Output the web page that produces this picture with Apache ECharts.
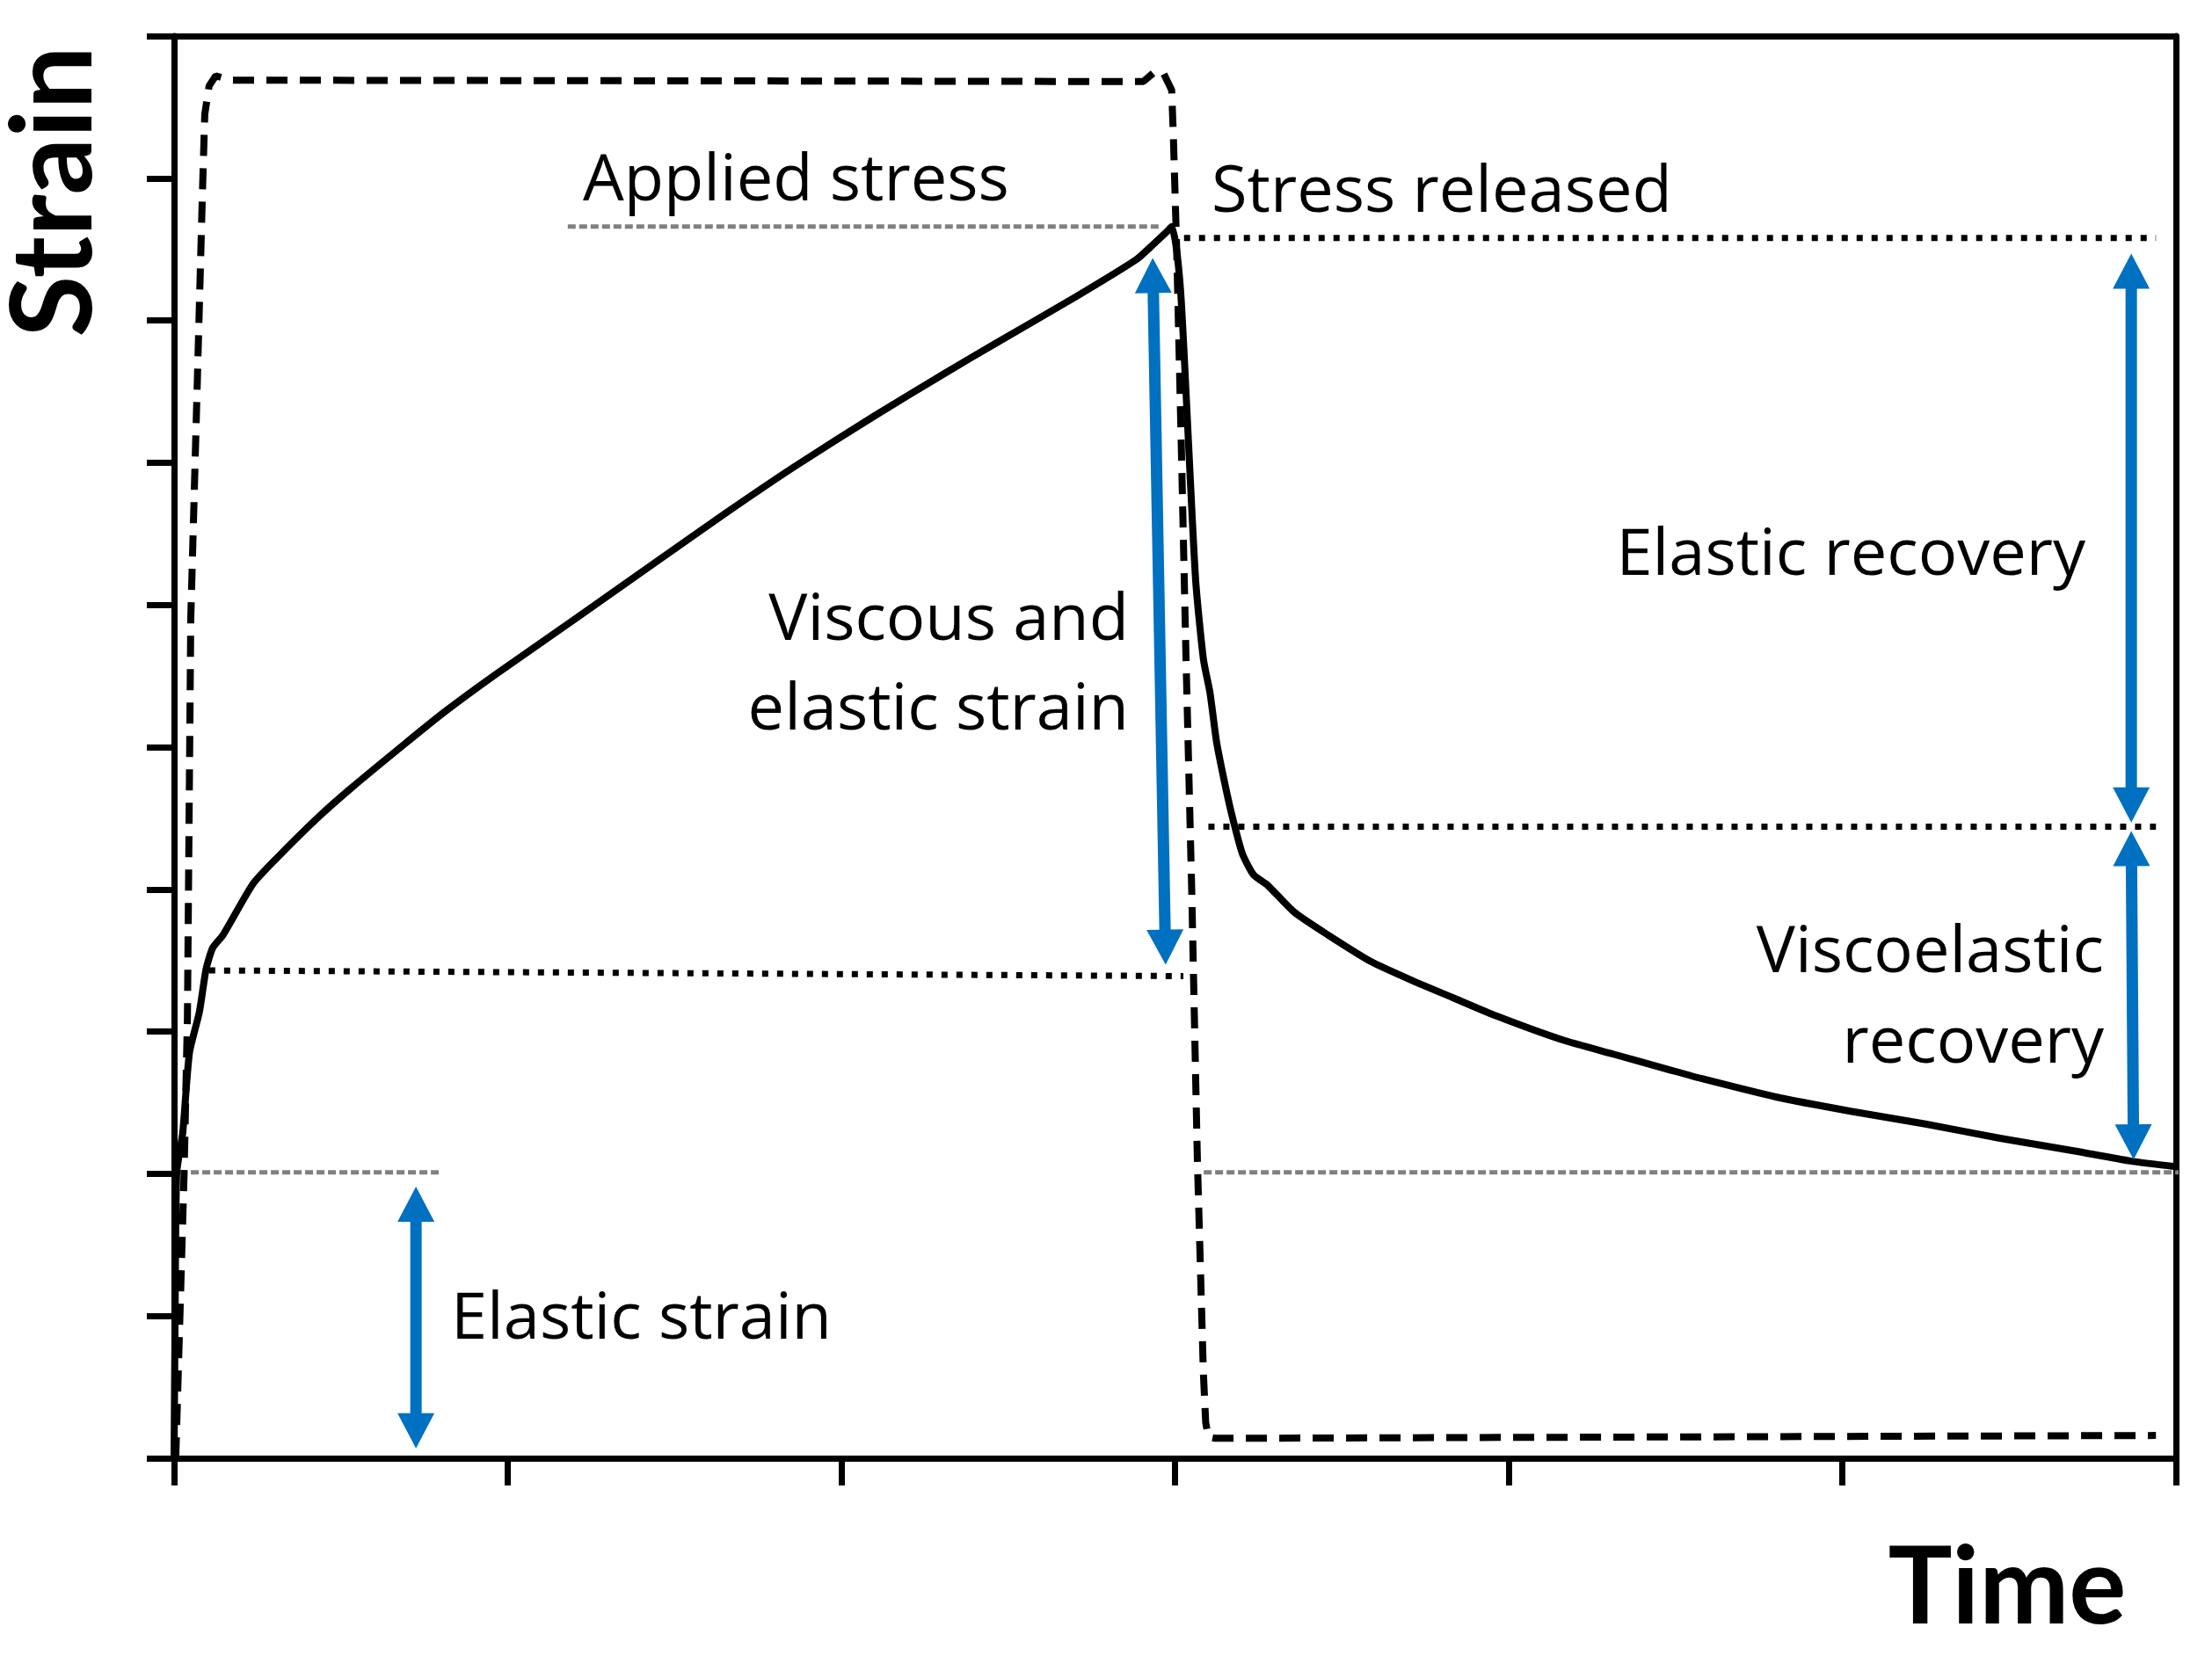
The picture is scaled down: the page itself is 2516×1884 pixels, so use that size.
<!DOCTYPE html>
<html>
<head>
<meta charset="utf-8">
<script src="https://cdn.jsdelivr.net/npm/echarts@6/dist/echarts.min.js"></script>
<style>
html,body{margin:0;padding:0;background:#fff;}
#chart{width:2516px;height:1884px;}
</style>
</head>
<body>
<div id="chart"></div>
<script>
// ---- data (time units 0..6, strain units 0..10) ----
const strainTime = [0, 0.003, 0.008, 0.026, 0.046, 0.076, 0.096, 0.116, 0.147, 0.237, 0.308, 0.429, 0.530, 0.690, 0.812, 0.963, 1.195, 1.455, 1.656, 1.858, 2.100, 2.311, 2.463, 2.705, 2.885, 2.937, 2.978, 2.990, 3.004, 3.017, 3.027, 3.040, 3.062, 3.085, 3.105, 3.125, 3.156, 3.175, 3.202, 3.236, 3.277, 3.357, 3.458, 3.589, 3.710, 3.831, 3.963, 4.163, 4.316, 4.484, 4.577, 4.801, 5.025, 5.249, 5.473, 5.697, 5.864, 6.0];
const strainValue = [0, 0.98, 2.01, 2.29, 2.85, 3.14, 3.44, 3.59, 3.68, 4.04, 4.22, 4.50, 4.71, 5.02, 5.25, 5.51, 5.89, 6.32, 6.65, 6.97, 7.33, 7.63, 7.84, 8.17, 8.43, 8.54, 8.63, 8.66, 8.51, 8.20, 7.78, 7.16, 6.17, 5.62, 5.38, 5.03, 4.67, 4.48, 4.25, 4.10, 4.03, 3.84, 3.68, 3.49, 3.36, 3.24, 3.11, 2.94, 2.84, 2.73, 2.67, 2.54, 2.44, 2.35, 2.25, 2.16, 2.09, 2.05];

const stressTime = [0.005, 0.03, 0.04, 0.05, 0.07, 0.085, 0.092, 0.105, 0.125, 0.17, 2.87, 2.905, 2.94, 2.965, 2.99, 2.995, 3.005, 3.02, 3.033, 3.05, 3.067, 3.085, 3.092, 3.10, 3.12, 5.94];
const stressValue = [0, 2.0, 3.1, 5.9, 7.6, 8.9, 9.45, 9.65, 9.72, 9.69, 9.68, 9.68, 9.75, 9.74, 9.62, 9.3, 8.5, 7.0, 5.62, 4.0, 2.1, 0.6, 0.25, 0.15, 0.14, 0.16];

// reference levels [[t1, strain1], [t2, strain2]]
const appliedStressGuide = [[1.18, 8.66], [2.951, 8.66]];
const elasticGuideLeft   = [[0.016, 2.01], [0.793, 2.01]];
const elasticGuideRight  = [[3.086, 2.01], [6.01, 2.01]];
const peakGuide          = [[3.027, 8.58], [5.94, 8.58]];
const recoveryGuide      = [[3.10, 4.44], [5.94, 4.44]];
const creepGuide         = [[0.105, 3.43], [3.025, 3.39]];

// double arrows [t1, strain1, t2, strain2] (tip to tip)
const arrowData = [
  [0.725, 1.91, 0.725, 0.07],
  [2.933, 8.44, 2.972, 3.47],
  [5.866, 8.47, 5.866, 4.47],
  [5.866, 4.41, 5.873, 2.10]
];

const timeRange = [0, 6];
const strainRange = [0, 10];

// ---- build ----
const zip = (a, b) => a.map((v, i) => [v, b[i]]);
const chart = echarts.init(document.getElementById('chart'), null, {renderer: 'canvas'});

const axisLineStyle = {color: '#000', width: 7};
function guide(data, style) {
  return {type: 'line', data: data, showSymbol: false, symbol: 'none', silent: true, clip: false,
    lineStyle: style, z: 2, animation: false};
}
const grayStyle = {color: '#808080', width: 5, type: [9, 4]};
const dotStyle = {color: '#000', width: 7, type: [7, 10]};

const textBase = {fontFamily: 'Open Sans', fontSize: 74, fill: '#000'};
function label(text, x, y, align) {
  return {type: 'text', x: x, y: y, silent: true,
    style: Object.assign({}, textBase, {text: text, textAlign: align, textVerticalAlign: 'middle'})};
}

const option = {
  animation: false,
  backgroundColor: '#fff',
  grid: {left: 198, right: 41, top: 41, bottom: 225, containLabel: false, outerBoundsMode: 'none'},
  xAxis: [
    {type: 'value', min: timeRange[0], max: timeRange[1], interval: 1, position: 'bottom',
      axisLine: {show: true, onZero: false, lineStyle: axisLineStyle},
      axisTick: {show: true, inside: false, length: 31, lineStyle: axisLineStyle},
      axisLabel: {show: false}, splitLine: {show: false}},
    {type: 'value', min: timeRange[0], max: timeRange[1], interval: 1, position: 'top',
      axisLine: {show: true, onZero: false, lineStyle: axisLineStyle},
      axisTick: {show: false}, axisLabel: {show: false}, splitLine: {show: false}}
  ],
  yAxis: [
    {type: 'value', min: strainRange[0], max: strainRange[1], interval: 1, position: 'left',
      axisLine: {show: true, onZero: false, lineStyle: axisLineStyle},
      axisTick: {show: true, inside: false, length: 31, lineStyle: axisLineStyle},
      axisLabel: {show: false}, splitLine: {show: false}},
    {type: 'value', min: strainRange[0], max: strainRange[1], interval: 1, position: 'right',
      axisLine: {show: true, onZero: false, lineStyle: axisLineStyle},
      axisTick: {show: false}, axisLabel: {show: false}, splitLine: {show: false}}
  ],
  series: [
    guide(appliedStressGuide, grayStyle),
    guide(elasticGuideLeft, grayStyle),
    guide(elasticGuideRight, grayStyle),
    guide(peakGuide, dotStyle),
    guide(recoveryGuide, dotStyle),
    guide(creepGuide, dotStyle),
    {type: 'line', name: 'Stress', data: zip(stressTime, stressValue), showSymbol: false, symbol: 'none',
      silent: true, clip: false, z: 3, lineStyle: {color: '#000', width: 8, type: [24, 14]}},
    {type: 'line', name: 'Strain', data: zip(strainTime, strainValue), showSymbol: false, symbol: 'none',
      smooth: 0.2,
      silent: true, clip: false, z: 4, lineStyle: {color: '#000', width: 8, join: 'round', cap: 'round'}},
    {type: 'custom', name: 'Arrows', coordinateSystem: 'cartesian2d', data: arrowData, silent: true, clip: false, z: 5,
      encode: {x: [0, 2], y: [1, 3]},
      renderItem: function (params, api) {
        const a = api.coord([api.value(0), api.value(1)]);
        const b = api.coord([api.value(2), api.value(3)]);
        const dx = b[0] - a[0], dy = b[1] - a[1];
        const len = Math.sqrt(dx * dx + dy * dy);
        const ux = dx / len, uy = dy / len, px = -uy, py = ux;
        const H = 40, W = 21;
        const color = '#0070C0';
        return {type: 'group', children: [
          {type: 'line', shape: {x1: a[0] + ux * (H - 4), y1: a[1] + uy * (H - 4), x2: b[0] - ux * (H - 4), y2: b[1] - uy * (H - 4)},
            style: {stroke: color, lineWidth: 13}},
          {type: 'polygon', shape: {points: [[a[0], a[1]], [a[0] + ux * H + px * W, a[1] + uy * H + py * W], [a[0] + ux * H - px * W, a[1] + uy * H - py * W]]},
            style: {fill: color}},
          {type: 'polygon', shape: {points: [[b[0], b[1]], [b[0] - ux * H + px * W, b[1] - uy * H + py * W], [b[0] - ux * H - px * W, b[1] - uy * H - py * W]]},
            style: {fill: color}}
        ]};
      }}
  ],
  graphic: [
    label('Applied stress', 663, 207, 'left'),
    label('Stress released', 1378, 220, 'left'),
    label('Viscous and', 1284, 707, 'right'),
    label('elastic strain', 1284, 809, 'right'),
    label('Elastic recovery', 2372, 633, 'right'),
    label('Viscoelastic', 2393, 1085, 'right'),
    label('recovery', 2393, 1188, 'right'),
    label('Elastic strain', 513, 1502, 'left'),
    {type: 'text', x: 2283, y: 1808, silent: true,
      style: {text: 'Time', fontFamily: 'Lato', fontWeight: 'bold', fontSize: 122, fill: '#000',
        textAlign: 'center', textVerticalAlign: 'middle', shadowBlur: 4, shadowColor: 'rgba(0,0,0,0.45)'}},
    {type: 'text', x: 63, y: 218, rotation: Math.PI / 2, silent: true,
      style: {text: 'Strain', fontFamily: 'Lato', fontWeight: 'bold', fontSize: 128, fill: '#000',
        textAlign: 'center', textVerticalAlign: 'middle', shadowBlur: 4, shadowColor: 'rgba(0,0,0,0.45)'}}
  ]
};
chart.setOption(option);
</script>
</body>
</html>
